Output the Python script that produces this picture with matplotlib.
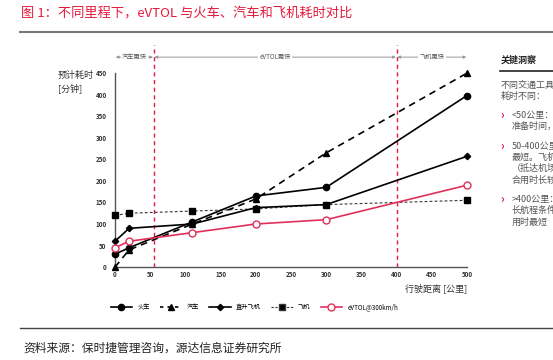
import matplotlib.pyplot as plt
from matplotlib.lines import Line2D

plt.rcParams['font.family'] = ['Noto Sans CJK SC', 'DejaVu Sans']

distance = [0, 20, 110, 200, 300, 500]
train = [30, 45, 105, 165, 185, 398]
car = [0, 40, 100, 158, 265, 450]
heli = [60, 90, 100, 138, 145, 257]
plane = [120, 125, 130, 135, 145, 155]
evtol = [45, 60, 80, 100, 110, 190]

x_ticks = list(range(0, 501, 50))
y_ticks = list(range(0, 451, 50))
split_points = [55, 400]
zones = [(0, 55, '汽车更快'), (55, 400, 'eVTOL更快'), (400, 500, '飞机更快')]

red = '#e6193c'
pink = '#e0305a'

fig = plt.figure(figsize=(5.53, 3.6), dpi=100)

# title and rules
fig.text(0.038, 0.965, '图 1：不同里程下，eVTOL 与火车、汽车和飞机耗时对比',
         color=red, fontsize=9.5, va='center')
fig.add_artist(Line2D([0.036, 1.0], [0.91, 0.91], color='#777777', lw=1.5))
fig.add_artist(Line2D([0.036, 1.0], [0.088, 0.088], color='#444444', lw=1.0))
fig.text(0.042, 0.033, '资料来源：保时捷管理咨询，源达信息证券研究所',
         fontsize=8.5, color='#222222', va='center')

ax = fig.add_axes([0.208, 0.258, 0.6365, 0.539])

ax.plot(distance, train, color='black', lw=1.2, marker='o', ms=4.5, clip_on=False, zorder=4)
ax.plot(distance, car, color='black', lw=1.2, ls=(0, (4, 3)), marker='^', ms=5,
        clip_on=False, zorder=4)
ax.plot(distance, heli, color='black', lw=1.2, marker='D', ms=3.2, clip_on=False, zorder=4)
ax.plot(distance, plane, color='#333333', lw=0.8, ls=(0, (2.5, 2)), marker='s', ms=5,
        mfc='black', mec='black', clip_on=False, zorder=3)
ax.plot(distance, evtol, color=pink, lw=1.2, marker='o', ms=5, mfc='white', mec=pink,
        mew=1.0, clip_on=False, zorder=5)

for sp in split_points:
    ax.plot([sp, sp], [0, 515], color=red, lw=1.0, ls=(0, (3, 2.5)), clip_on=False, zorder=2)

for x0, x1, label in zones:
    ax.annotate('', xy=(x1 - 1, 487), xytext=(x0 + 1, 487),
                arrowprops=dict(arrowstyle='<|-|>', color='#999999', lw=0.7,
                                mutation_scale=4, shrinkA=0, shrinkB=0),
                annotation_clip=False)
    ax.text((x0 + x1) / 2, 487, label, fontsize=4.5, color='#555555', ha='center',
            va='center', bbox=dict(fc='white', ec='none', pad=1))

ax.set_xlim(0, 500)
ax.set_ylim(0, 450)
ax.set_xticks(x_ticks)
ax.set_yticks(y_ticks)
ax.tick_params(length=0, labelsize=4.5)
ax.tick_params(axis='x', pad=3)
ax.tick_params(axis='y', pad=6)
for lbl in ax.get_xticklabels() + ax.get_yticklabels():
    lbl.set_fontweight('bold')
    lbl.set_color('#333333')
for s in ['top', 'right']:
    ax.spines[s].set_visible(False)
for s in ['left', 'bottom']:
    ax.spines[s].set_color('#555555')
    ax.spines[s].set_linewidth(1.0)

fig.text(0.105, 0.772, '预计耗时\n[分钟]', fontsize=6.5, color='#333333', va='center',
         linespacing=1.3)
fig.text(0.8445, 0.2, '行驶距离 [公里]', fontsize=6.5, color='#333333', ha='right', va='center')

handles = [
    Line2D([], [], color='black', lw=1.2, marker='o', ms=4.5),
    Line2D([], [], color='black', lw=1.2, ls=(0, (2, 2.5)), marker='^', ms=5),
    Line2D([], [], color='black', lw=1.2, marker='D', ms=3.2),
    Line2D([], [], color='#333333', lw=0.8, ls=(0, (2, 1.5)), marker='s', ms=5, mfc='black'),
    Line2D([], [], color=pink, lw=1.2, marker='o', ms=5, mfc='white', mec=pink),
]
labels = ['火车', '汽车', '直升飞机', '飞机', 'eVTOL@300km/h']
fig.legend(handles, labels, loc='center', bbox_to_anchor=(0.46, 0.147), ncol=5,
           frameon=False, fontsize=4.5, handlelength=3.5, columnspacing=1.6,
           handletextpad=0.8)

# right side panel (cut off by the page edge, as in the source)
fig.text(0.905, 0.832, '关键洞察', fontsize=6.5, fontweight='bold', color='#222222', va='center')
fig.add_artist(Line2D([0.904, 1.0], [0.803, 0.803], color='#222222', lw=1.2))
panel = [
    (0.762, '不同交通工具在不同里程下', 0.905, False),
    (0.731, '耗时不同：', 0.905, False),
    (0.681, '<50公里：汽车无需候机', 0.925, True),
    (0.650, '准备时间，用时最短', 0.925, False),
    (0.594, '50-400公里：eVTOL用时', 0.925, True),
    (0.563, '最短。飞机需额外耗时', 0.925, False),
    (0.532, '（抵达机场、安检等），', 0.925, False),
    (0.500, '合用时长较长', 0.925, False),
    (0.447, '>400公里：飞机凭借', 0.925, True),
    (0.415, '长航程条件下速度优势', 0.925, False),
    (0.383, '用时最短', 0.925, False),
]
for y, line, x, bullet in panel:
    fig.text(x, y, line, fontsize=6.5, color='#555555', va='center')
    if bullet:
        fig.text(0.905, y, '›', fontsize=8, color=red, fontweight='bold', va='center')

fig.savefig('out.png', dpi=100)
